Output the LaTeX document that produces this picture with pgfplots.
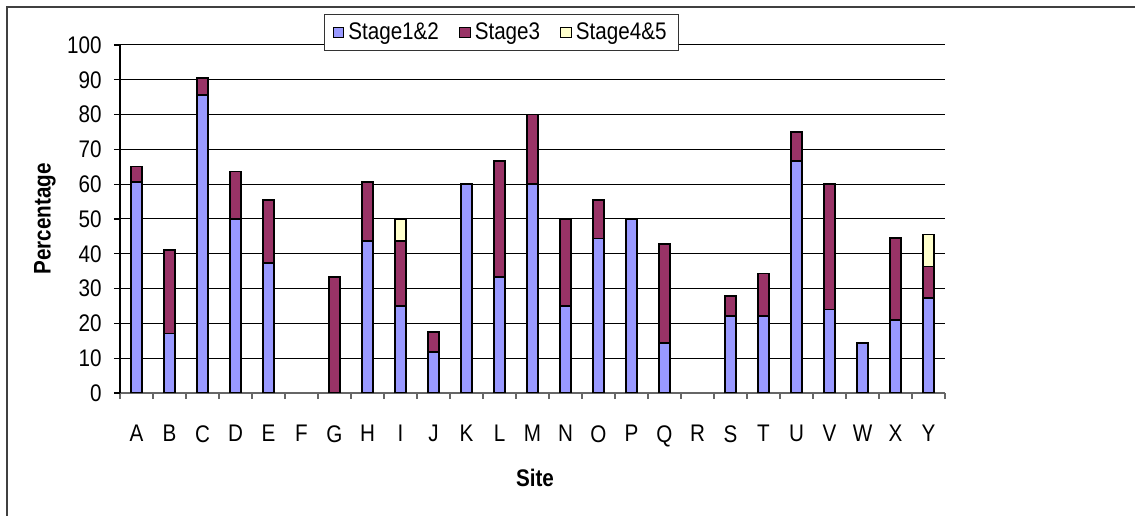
\documentclass[border=0pt]{standalone}
\usepackage{fontspec}
\setmainfont[FakeStretch=0.86]{Liberation Sans}
\usepackage{pgfplots}
\usepackage{pgfplotstable}
\pgfplotsset{compat=1.18}
\definecolor{sA}{HTML}{9999FF}
\definecolor{sB}{HTML}{993366}
\definecolor{sC}{HTML}{FFFFCC}
\pgfplotstableread{
x s12 s3 s45
0 60.7 4.4 0
1 17.1 24.0 0
2 85.6 4.9 0
3 50.0 13.6 0
4 37.3 18.1 0
5 0 0 0
6 0 33.3 0
7 43.6 17.1 0
8 25.0 18.6 6.4
9 11.8 5.8 0
10 60.0 0 0
11 33.3 33.4 0
12 60.0 20.0 0
13 25.0 25.0 0
14 44.4 11.1 0
15 50.0 0 0
16 14.3 28.5 0
17 0 0 0
18 22.2 5.6 0
19 22.1 12.2 0
20 66.7 8.3 0
21 24.0 36.0 0
22 14.3 0 0
23 21.0 23.5 0
24 27.3 9.1 9.1
}\data
\begin{document}
\fontsize{12bp}{14bp}\selectfont
\begin{tikzpicture}
\path[use as bounding box] (0,0) rectangle (567.5bp,258bp);
\draw[black!75, line width=1.4bp] (3.5bp,0) -- (3.5bp,254.5bp) -- (567.5bp,254.5bp);
\begin{axis}[
  at={(60bp,61.5bp)}, anchor=south west,
  scale only axis, width=412.5bp, height=174bp,
  ybar stacked, bar width=5.6bp,
  xmin=-0.5, xmax=24.5, ymin=0, ymax=100,
  axis x line*=bottom, axis y line*=left,
  x axis line style={black!60, line width=0.6bp, -},
  y axis line style={black, line width=0.6bp, -},
  xtick={0,...,24},
  xticklabels={A,B,C,D,E,F,G,H,I,J,K,L,M,N,O,P,Q,R,S,T,U,V,W,X,Y},
  minor xtick={-0.5,0.5,...,24.5},
  major x tick style={draw=none},
  minor x tick style={black!60, line width=0.6bp},
  minor tick length=3bp,
  ytick={0,10,...,100},
  major y tick style={black, line width=0.6bp},
  major tick length=3bp,
  tick align=outside,
  ymajorgrids, grid style={black, line width=0.5bp},
  xticklabel style={yshift=-9bp},
  yticklabel style={xshift=-2bp},
  /pgf/number format/assume math mode=true,
  tick label style={font=\fontsize{12bp}{14bp}\selectfont},
  xlabel={\bfseries Site},
  ylabel={\bfseries Percentage},
  xlabel style={at={(axis description cs:0.503,-0.244)}, anchor=center, font=\fontsize{12bp}{14bp}\selectfont},
  ylabel style={at={(axis description cs:-0.0909,0.5)}, anchor=center, font=\fontsize{12bp}{14bp}\selectfont},
  legend columns=3,
  legend style={at={(axis description cs:0.4625,1.036)}, anchor=center,
    draw=black!80, line width=0.6bp, fill=white,
    font=\fontsize{12bp}{14bp}\selectfont,
    inner xsep=4bp, inner ysep=2bp,
    /tikz/every even column/.append style={column sep=8bp}},
  legend image code/.code={\draw[#1, line width=0.5bp] (0bp,-2.7bp) rectangle (5.4bp,2.7bp);},
  every axis plot/.append style={draw=black, line width=0.8bp},
]
\addplot[fill=sA] table[x=x,y=s12]{\data};
\addplot[fill=sB] table[x=x,y=s3]{\data};
\addplot[fill=sC] table[x=x,y=s45]{\data};
\legend{Stage1\&2,Stage3,Stage4\&5}
\end{axis}
\end{tikzpicture}
\end{document}
